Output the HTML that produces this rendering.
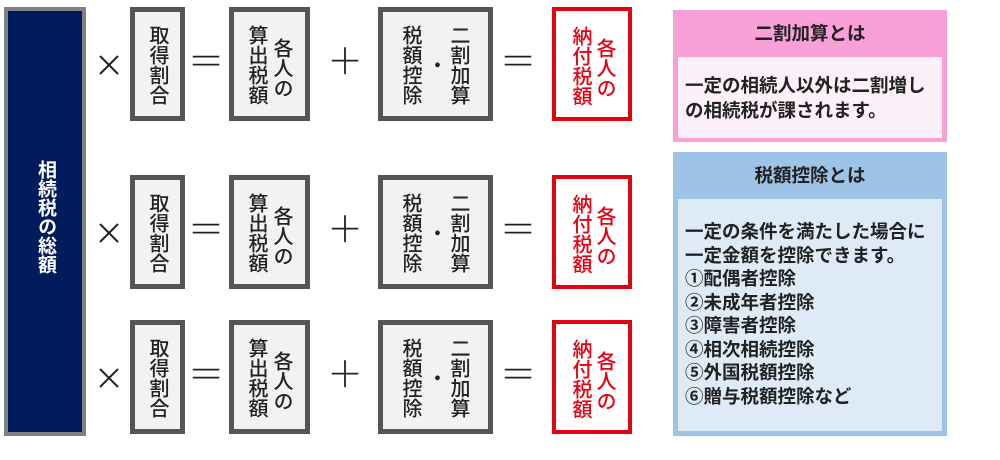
<!DOCTYPE html>
<html><head><meta charset="utf-8"><style>
body{margin:0;width:1000px;height:460px;background:#fff;position:relative;overflow:hidden;font-family:"Liberation Sans","Noto Sans CJK JP",sans-serif;}
.a{position:absolute;box-sizing:border-box;}
.g{border:5px solid #555;background:#f2f2f2;}
.r{border:4px solid #e50012;background:#fff;}
.v{position:absolute;writing-mode:vertical-rl;font-size:20px;line-height:20px;color:#222;letter-spacing:0;white-space:nowrap;font-weight:500;}
.red{color:#e50012;}
.op{position:absolute;font-size:36px;line-height:36px;color:#222;width:40px;text-align:center;font-weight:300;}
</style></head><body>
<div class="a" style="left:4px;top:7px;width:82px;height:429px;background:#001c5c;border:4px solid #808080;"></div>
<div class="v" style="left:34px;top:160px;color:#fff;font-weight:bold;font-size:19px;line-height:22px;width:22px;">相続税の総額</div>

<div id="rows"></div>
<script>
var tops=[7,175,320];var h='';
tops.forEach(function(t){
 var c=t+57;
 h+='<svg style="position:absolute;left:99px;top:'+(c-9)+'px" width="20" height="20"><path d="M1 1L19 19M19 1L1 19" stroke="#222" stroke-width="2"/></svg>';
 h+='<div class="a g" style="left:130px;top:'+t+'px;width:55px;height:114px"></div>';
 h+='<div class="v" style="left:147px;top:'+(t+18)+'px">取得割合</div>';
 h+='<div class="op" style="left:186px;top:'+(c-20)+'px">＝</div>';
 h+='<div class="a g" style="left:229px;top:'+t+'px;width:81px;height:114px"></div>';
 h+='<div class="v" style="left:246px;top:'+(t+18)+'px">算出税額</div>';
 h+='<div class="v" style="left:271px;top:'+(t+31)+'px">各人の</div>';
 h+='<div class="op" style="left:325px;top:'+(c-20)+'px">＋</div>';
 h+='<div class="a g" style="left:378px;top:'+t+'px;width:115px;height:114px"></div>';
 h+='<div class="v" style="left:400px;top:'+(t+18)+'px">税額控除</div>';
 h+='<div class="v" style="left:425px;top:'+(t+48)+'px">・</div>';
 h+='<div class="v" style="left:448px;top:'+(t+18)+'px">二割加算</div>';
 h+='<div class="op" style="left:498px;top:'+(c-20)+'px">＝</div>';
 h+='<div class="a r" style="left:552px;top:'+t+'px;width:80px;height:114px"></div>';
 h+='<div class="v red" style="left:570px;top:'+(t+19)+'px">納付税額</div>';
 h+='<div class="v red" style="left:594px;top:'+(t+31)+'px">各人の</div>';
});
document.getElementById('rows').innerHTML=h;
</script>

<div class="a" style="left:673px;top:10px;width:274px;height:132px;background:#f9a0d9;"></div>
<div class="a" style="left:673px;top:20px;width:274px;text-align:center;font-size:18.5px;font-weight:bold;color:#222;">二割加算とは</div>
<div class="a" style="left:678px;top:57px;width:264px;height:81px;background:#fdf0f8;padding:16px 0 0 7px;font-size:18.5px;line-height:25px;font-weight:bold;color:#222;white-space:nowrap;">一定の相続人以外は二割増し<br>の相続税が課されます。</div>

<div class="a" style="left:673px;top:152px;width:274px;height:284px;background:#9dc3e6;"></div>
<div class="a" style="left:673px;top:162px;width:274px;text-align:center;font-size:18.5px;font-weight:bold;color:#222;">税額控除とは</div>
<div class="a" style="left:678px;top:199px;width:264px;height:232px;background:#deebf7;padding:21px 0 0 7px;font-size:18.5px;line-height:23.5px;font-weight:bold;color:#222;white-space:nowrap;">一定の条件を満たした場合に<br>一定金額を控除できます。<br>①配偶者控除<br>②未成年者控除<br>③障害者控除<br>④相次相続控除<br>⑤外国税額控除<br>⑥贈与税額控除など</div>
</body></html>
